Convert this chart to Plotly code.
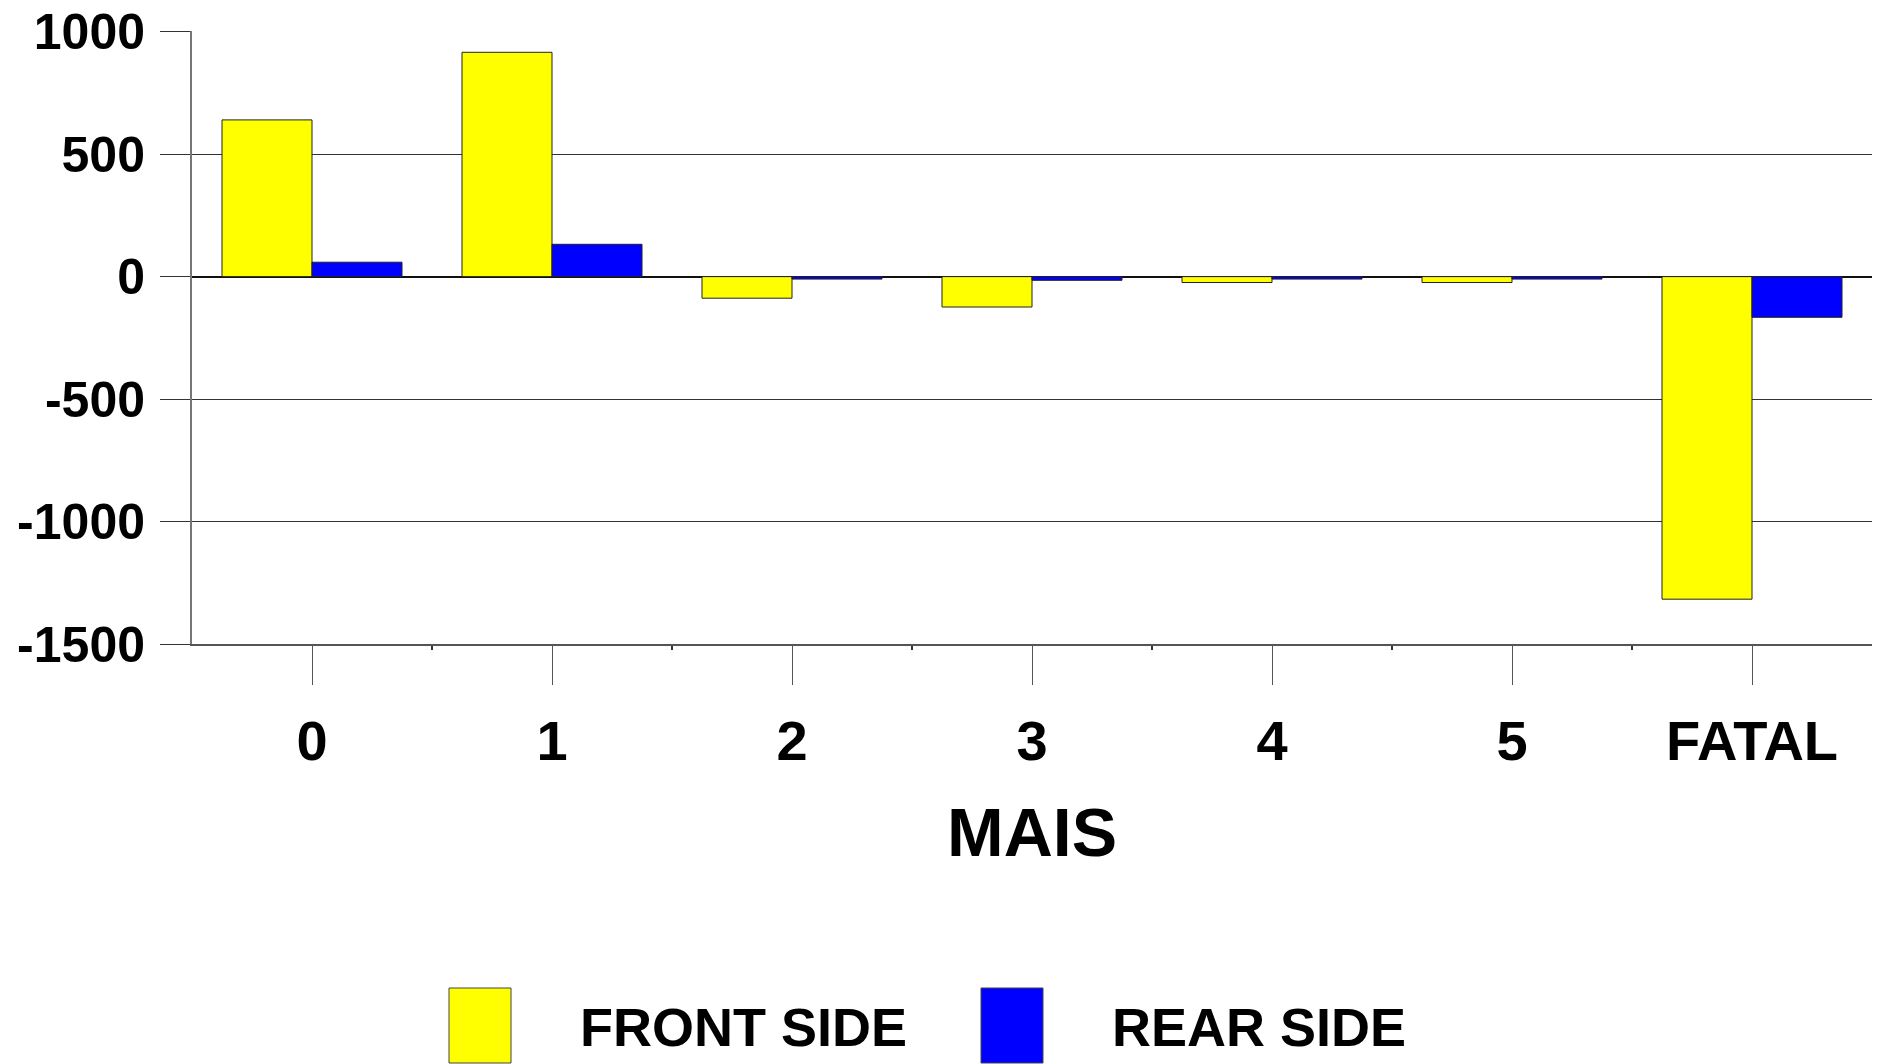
import plotly.graph_objects as go

# Injury severity (MAIS) categories and differences per impact side
categories = ["0", "1", "2", "3", "4", "5", "FATAL"]
front_side = [640, 916, -88, -124, -24, -24, -1317]
rear_side = [59, 132, -10, -15, -10, -10, -166]
y_ticks = [1000, 500, 0, -500, -1000, -1500]

FONT = "Liberation Sans, Arial, sans-serif"
YELLOW = "#FFFF00"
BLUE = "#0000FF"
OUTLINE = "#222222"

W, H = 1877, 1064
L, R, T, B = 192, 5, 31, 420
plot_w = W - L - R
plot_h = H - T - B

x_pos = list(range(len(categories)))

fig = go.Figure()
fig.add_bar(x=x_pos, y=front_side, name="FRONT SIDE",
            marker=dict(color=YELLOW, line=dict(color=OUTLINE, width=1)))
fig.add_bar(x=x_pos, y=rear_side, name="REAR SIDE",
            marker=dict(color=BLUE, line=dict(color=OUTLINE, width=1)))

fig.update_layout(
    width=W, height=H,
    margin=dict(l=L, r=R, t=T, b=B, autoexpand=False),
    paper_bgcolor="white", plot_bgcolor="white",
    barmode="group", bargap=0.25, bargroupgap=0,
    showlegend=False,
    font=dict(family=FONT, color="black", weight="bold"),
)

fig.update_xaxes(
    range=[-0.5, len(categories) - 0.5],
    tickmode="array", tickvals=x_pos, ticktext=categories,
    ticks="outside", ticklen=39, tickwidth=1, tickcolor="#555555",
    ticklabelstandoff=8,
    tickfont=dict(family=FONT, size=56, color="black", weight="bold"),
    minor=dict(tickmode="array", tickvals=[i + 0.5 for i in x_pos[:-1]],
               ticks="outside", ticklen=4, tickwidth=2, tickcolor="#333333",
               showgrid=False),
    showline=True, linecolor="#555555", linewidth=2,
    showgrid=False, zeroline=False, automargin=False,
)

fig.update_yaxes(
    range=[-1500, 1003],
    tickmode="array", tickvals=y_ticks, ticktext=[str(v) for v in y_ticks],
    ticks="outside", ticklen=30, tickwidth=1, tickcolor="#333333",
    ticklabelstandoff=5, ticklabeloverflow="allow",
    tickfont=dict(family=FONT, size=50, color="black", weight="bold"),
    showline=True, linecolor="#777777", linewidth=2,
    showgrid=True, gridcolor="#333333", gridwidth=1,
    zeroline=True, zerolinecolor="#111111", zerolinewidth=1.5,
    automargin=False,
)

# Axis title for the severity scale
fig.add_annotation(xref="paper", yref="paper", x=0.5, y=(H - B - 832) / plot_h,
                   xanchor="center", yanchor="middle", showarrow=False,
                   text="MAIS",
                   font=dict(family=FONT, size=68, color="black", weight="bold"))

# Legend drawn as large swatches with labels below the plot
legend_items = [("FRONT SIDE", YELLOW, 449, 578), ("REAR SIDE", BLUE, 981, 1110)]
for label, color, sx, tx in legend_items:
    fig.add_shape(type="rect", xref="paper", yref="paper",
                  x0=(sx - L) / plot_w, x1=(sx + 62 - L) / plot_w,
                  y0=(H - B - 1063) / plot_h, y1=(H - B - 988) / plot_h,
                  fillcolor=color, line=dict(color="#444444", width=1))
    fig.add_annotation(xref="paper", yref="paper",
                       x=(tx - L) / plot_w, y=(H - B - 1027) / plot_h,
                       xanchor="left", yanchor="middle", showarrow=False,
                       text=label,
                       font=dict(family=FONT, size=54, color="black", weight="bold"))

fig.write_html("out.html")
